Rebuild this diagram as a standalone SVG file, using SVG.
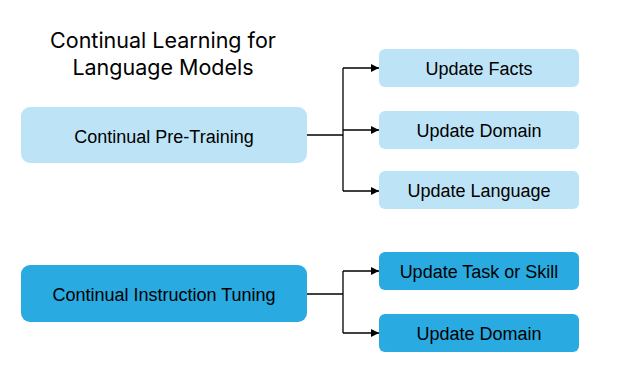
<svg xmlns="http://www.w3.org/2000/svg" width="622" height="387" viewBox="0 0 622 387">
<style>
.light{fill:#BDE4F6}
.dark{fill:#29ABE2}
.t{font-family:"Liberation Sans",Arial,sans-serif;font-size:18px;fill:#000;text-anchor:middle}
.title{font-family:Inter,"Open Sans",sans-serif;font-size:21.5px;fill:#000;text-anchor:middle}
.c{fill:none;stroke:#000;stroke-width:1.3}
</style>
<defs>
<marker id="arr" viewBox="0 0 10 10" refX="10" refY="5" markerWidth="8" markerHeight="8" markerUnits="userSpaceOnUse" orient="auto">
<path d="M0,0 L10,5 L0,10 z" fill="#000"/>
</marker>
</defs>
<rect width="622" height="387" fill="#fff"/>
<g id="title">
<text class="title" x="163" y="48">Continual Learning for</text>
<text class="title" x="163" y="75">Language Models</text>
</g>
<g id="connectors">
<path class="c" d="M307,135 H343"/>
<path class="c" d="M343,68 V191"/>
<path class="c" d="M343,68 H379" marker-end="url(#arr)"/>
<path class="c" d="M343,130 H379" marker-end="url(#arr)"/>
<path class="c" d="M343,191 H379" marker-end="url(#arr)"/>
<path class="c" d="M307,294 H343"/>
<path class="c" d="M343,271 V333"/>
<path class="c" d="M343,271 H379" marker-end="url(#arr)"/>
<path class="c" d="M343,333 H379" marker-end="url(#arr)"/>
</g>
<g id="cpt">
<rect class="light" x="21" y="107" width="286" height="56" rx="9"/>
<text class="t" x="164" y="142.5">Continual Pre-Training</text>
</g>
<g id="facts">
<rect class="light" x="379" y="49" width="200" height="38" rx="6"/>
<text class="t" x="479" y="74.5">Update Facts</text>
</g>
<g id="domain1">
<rect class="light" x="379" y="111" width="200" height="38" rx="6"/>
<text class="t" x="479" y="136.5">Update Domain</text>
</g>
<g id="language">
<rect class="light" x="379" y="171" width="200" height="38" rx="6"/>
<text class="t" x="479" y="196.5">Update Language</text>
</g>
<g id="cit">
<rect class="dark" x="21" y="265" width="286" height="57" rx="9"/>
<text class="t" x="164" y="301">Continual Instruction Tuning</text>
</g>
<g id="task">
<rect class="dark" x="379" y="252" width="200" height="38" rx="6"/>
<text class="t" x="479" y="277.5">Update Task or Skill</text>
</g>
<g id="domain2">
<rect class="dark" x="379" y="314" width="200" height="38" rx="6"/>
<text class="t" x="479" y="339.5">Update Domain</text>
</g>
</svg>
